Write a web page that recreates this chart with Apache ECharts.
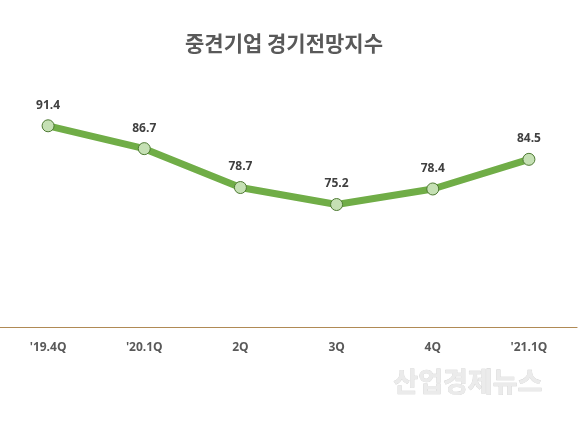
<!DOCTYPE html>
<html>
<head>
<meta charset="utf-8">
<script src="https://cdn.jsdelivr.net/npm/echarts@6/dist/echarts.min.js"></script>
<style>
html, body { margin: 0; padding: 0; background: #fff; }
#chart { width: 579px; height: 432px; }
</style>
</head>
<body>
<div id="chart"></div>
<script>
"use strict";

/*****Data start*****/
var quarters = ["'19.4Q", "'20.1Q", "2Q", "3Q", "4Q", "'21.1Q"];
var outlookIndex = [91.4, 86.7, 78.7, 75.2, 78.4, 84.5];
/*****Data end*****/

var chart = echarts.init(document.getElementById('chart'));
var option = {
	backgroundColor: '#ffffff',
	title: {
		text: '중견기업 경기전망지수',
		left: 180,
		top: 28,
		textStyle: {
			color: '#595959',
			fontFamily: "'Noto Sans CJK KR', sans-serif",
			fontWeight: 'bold',
			fontSize: 21
		}
	},
	grid: {
		left: 0,
		right: 2,
		top: 84,
		bottom: 105
	},
	xAxis: {
		type: 'category',
		data: quarters,
		axisTick: { show: false },
		axisLine: {
			lineStyle: { color: '#B08A55', width: 1.2 }
		},
		axisLabel: {
			margin: 15,
			color: '#595959',
			fontWeight: 'bold',
			fontSize: 12,
			fontFamily: "'Open Sans', sans-serif"
		}
	},
	yAxis: {
		type: 'value',
		min: 50,
		max: 100,
		show: false,
		splitLine: { show: false }
	},
	series: [
		{
			name: '경기전망지수',
			type: 'line',
			data: outlookIndex,
			symbol: 'circle',
			symbolSize: 12,
			lineStyle: { color: '#70AD47', width: 7 },
			itemStyle: {
				color: '#C5E0B4',
				borderColor: '#4E7A33',
				borderWidth: 1
			},
			label: {
				show: true,
				position: 'top',
				distance: 8,
				color: '#404040',
				fontWeight: 'bold',
				fontSize: 12,
				fontFamily: "'Open Sans', sans-serif"
			}
		}
	],
	graphic: [
		{
			type: 'text',
			left: 393,
			top: 368,
			style: {
				text: '산업경제뉴스',
				fill: '#EBEBEB',
				font: "bold 27px 'Noto Sans CJK KR', sans-serif",
				stroke: '#CFCFCF',
				lineWidth: 0.6
			}
		}
	]
};
chart.setOption(option);
</script>
</body>
</html>
